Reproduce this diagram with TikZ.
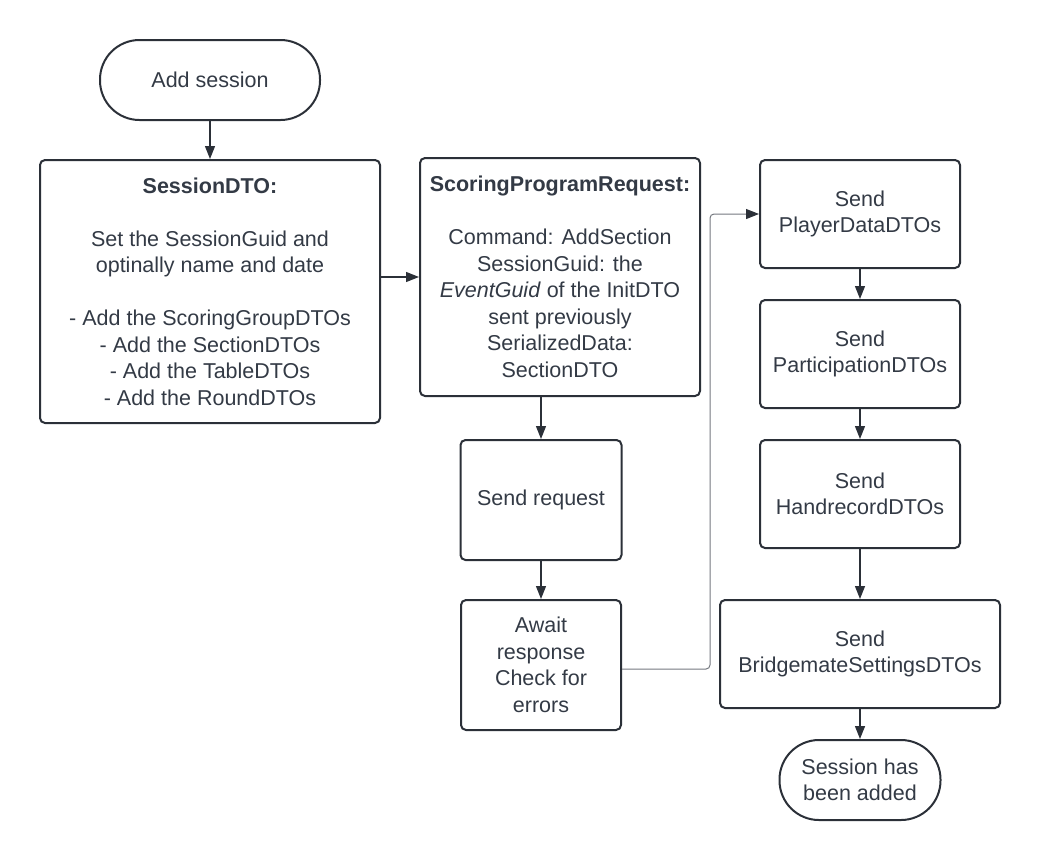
\documentclass[tikz,border=0pt]{standalone}
\usepackage{fontspec}
\setmainfont{Liberation Sans}
\usetikzlibrary{arrows.meta}
\definecolor{ink}{HTML}{333A45}
\definecolor{outline}{HTML}{2B3038}
\definecolor{wire}{HTML}{74787F}
\tikzset{
	flowbox/.style={draw=outline, line width=2pt, rounded corners=5pt, align=center, inner sep=0pt, text=ink, font=\fontsize{21.5}{26.5}\selectfont},
	terminal/.style={flowbox, rounded corners=39.5pt, minimum height=80pt},
	flow/.style={color=outline, line width=1.3pt, -{Triangle[width=10pt,length=13pt,color=outline]}}
}
\begin{document}
\begin{tikzpicture}[x=1pt, y=-1pt]
			\useasboundingbox (0,0) rectangle (1040,860);
			\node[terminal, minimum width=220pt] (start) at (210,80) {Add session};
			\node[flowbox, minimum width=340pt, minimum height=263pt] (session) at (210,291.5)
				{\textbf{SessionDTO:}\\[26.5pt] Set the SessionGuid and\\ optinally name and date\\[26.5pt] - Add the ScoringGroupDTOs\\ - Add the SectionDTOs\\ - Add the TableDTOs\\ - Add the RoundDTOs};
			\node[flowbox, minimum width=280pt, minimum height=238pt] (request) at (560,277)
				{\textbf{ScoringProgramRequest:}\\[26.5pt] Command: AddSection\\ SessionGuid: the\\ \textit{EventGuid} of the InitDTO\\ sent previously\\ SerializedData:\\ SectionDTO};
			\node[flowbox, minimum width=161pt, minimum height=120pt] (sendreq) at (541,500) {Send request};
			\node[flowbox, minimum width=160pt, minimum height=130pt] (await) at (541,665) {Await\\ response\\ Check for\\ errors};
			\node[flowbox, minimum width=200pt, minimum height=108pt] (player) at (860,214) {Send\\ PlayerDataDTOs};
			\node[flowbox, minimum width=200pt, minimum height=108pt] (particip) at (860,354) {Send\\ ParticipationDTOs};
			\node[flowbox, minimum width=200pt, minimum height=108pt] (handrec) at (860,494) {Send\\ HandrecordDTOs};
			\node[flowbox, minimum width=280pt, minimum height=108pt] (bridge) at (860,654) {Send\\ BridgemateSettingsDTOs};
			\node[terminal, minimum width=161pt] (finish) at (860,780) {Session has\\ been added};
			\coordinate (bend) at (710,0);
			\path[flow]
			(start) edge (session)
			(session.east |- request.west) edge (request)
			(request.south -| sendreq.north) edge (sendreq)
			(sendreq) edge (await)
			(player) edge (particip)
			(particip) edge (handrec)
			(handrec) edge (bridge)
			(bridge) edge (finish);
			\draw[flow, draw=wire, line width=1pt, rounded corners=4pt]
			([yshift=-4pt]await.east) -- ([yshift=-4pt]await.east -| bend) |- (player);
		\end{tikzpicture}
\end{document}
